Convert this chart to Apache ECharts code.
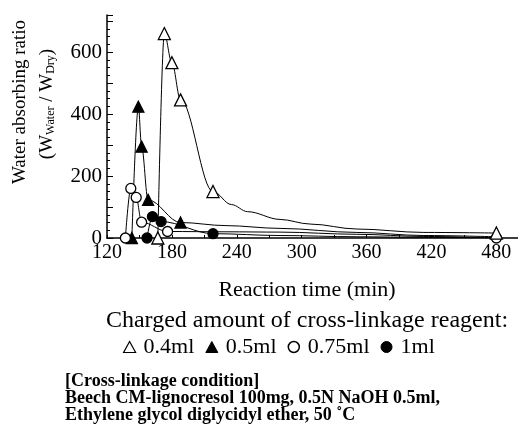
<!DOCTYPE html>
<html>
<head>
<meta charset="utf-8">
<title>Water absorbing ratio vs reaction time</title>
<script src="https://cdn.jsdelivr.net/npm/echarts@6/dist/echarts.min.js"></script>
<style>
  html, body { margin: 0; padding: 0; background: #fff; }
  #main { width: 518px; height: 439px; }
</style>
</head>
<body>
<div id="main"></div>
<script>
// tick labels
var xTickLabels = [120, 180, 240, 300, 360, 420, 480];
var yTickLabels = [0, 200, 400, 600];

// [time (min), water absorbing ratio] - points with a marker
var ml04Marks = [[167, 0], [173, 660], [180, 566], [188, 446], [218, 150], [480, 16]];
var ml05Marks = [[143, 0], [149, 424], [152, 295], [158, 123], [188, 50]];
var ml075Marks = [[137, 0], [142, 160], [147, 131], [152, 51], [176, 21], [480, 0]];
var ml1Marks = [[157, 0], [162, 69], [170, 53], [218, 14]];

// points (no marker)
var ml04Curve = [[235, 108], [250, 85], [280, 60], [308, 45], [351, 29], [413, 18]];
var ml05Curve = [[230, 40], [280, 31], [351, 18], [413, 8], [480, 4]];
var ml075Curve = [[230, 20], [280, 19], [351, 12], [413, 5]];
var ml1Curve = [[280, 8], [351, 4], [413, 2], [480, 1]];

var serif = '"Liberation Serif", "Times New Roman", serif';

function curveOf(marks, curve) {
    return marks.concat(curve).sort(function (a, b) { return a[0] - b[0]; });
}

function lineSeries(name, marks, curve) {
    return {
        name: name + ' curve',
        type: 'line',
        data: curveOf(marks, curve),
        showSymbol: false,
        symbol: 'none',
        smooth: 0.35,
        smoothMonotone: 'x',
        lineStyle: { color: '#000', width: 1 },
        z: 2,
        silent: true
    };
}

function markSeries(name, marks, symbol, fill, size) {
    return {
        name: name,
        type: 'scatter',
        data: marks,
        symbol: symbol,
        symbolSize: size,
        itemStyle: { color: fill, borderColor: '#000', borderWidth: 1.3, opacity: 1 },
        z: 3
    };
}

var myChart = echarts.init(document.getElementById('main'));
var option = {
    animation: false,
    backgroundColor: '#fff',
    grid: { left: 107, right: 0, top: 15, bottom: 201, containLabel: false },
    xAxis: {
        type: 'value', min: 120, max: 500, interval: 60,
        axisLine: { lineStyle: { color: '#000', width: 1.5 } },
        axisTick: { inside: true, length: 3, lineStyle: { color: '#000' } },
        minorTick: { show: true, splitNumber: 2, length: 3, lineStyle: { color: '#000' } },
        splitLine: { show: false },
        axisLabel: {
            color: '#000', fontFamily: serif, fontSize: 20, margin: 5, showMaxLabel: false,
            formatter: function (v) { return xTickLabels.indexOf(v) >= 0 ? String(v) : ''; }
        }
    },
    yAxis: {
        type: 'value', min: 0, max: 720, interval: 100,
        axisLine: { show: true, lineStyle: { color: '#000', width: 1.5 } },
        axisTick: { show: true, inside: true, length: 6, lineStyle: { color: '#000' } },
        minorTick: { show: true, splitNumber: 4, length: 3, lineStyle: { color: '#000' } },
        splitLine: { show: false },
        axisLabel: {
            color: '#000', fontFamily: serif, fontSize: 21, margin: 5, showMaxLabel: false,
            formatter: function (v) { return yTickLabels.indexOf(v) >= 0 ? String(v) : ''; }
        }
    },
    legend: {
        top: 331, left: 118,
        itemWidth: 12, itemHeight: 11, itemGap: 11,
        textStyle: { color: '#000', fontFamily: serif, fontSize: 22, padding: [0, 0, 0, 3] },
        selectedMode: false,
        data: [
            { name: '0.4ml', icon: 'triangle', itemStyle: { color: '#fff', borderColor: '#000', borderWidth: 1.2 } },
            { name: '0.5ml', icon: 'triangle', itemStyle: { color: '#000', borderColor: '#000', borderWidth: 1 } },
            { name: '0.75ml', icon: 'circle', itemStyle: { color: '#fff', borderColor: '#000', borderWidth: 1.5 } },
            { name: '1ml', icon: 'circle', itemStyle: { color: '#000', borderColor: '#000', borderWidth: 1 } }
        ]
    },
    graphic: [
        { type: 'text', x: 20, y: 102, rotation: Math.PI / 2,
          style: { text: 'Water absorbing ratio', font: '19px ' + serif, fill: '#000', align: 'center', verticalAlign: 'middle' } },
        { type: 'text', x: 47, y: 104, rotation: Math.PI / 2,
          style: { text: '(W{s|Water} / W{s|Dry})', font: '19px ' + serif, fill: '#000', align: 'center', verticalAlign: 'middle',
                   rich: { s: { fontSize: 12, fontFamily: serif, verticalAlign: 'bottom', padding: [8, 0, 0, 0] } } } },
        { type: 'text', x: 307, y: 290,
          style: { text: 'Reaction time (min)', font: '22px ' + serif, fill: '#000', align: 'center', verticalAlign: 'middle' } },
        { type: 'text', x: 307, y: 321,
          style: { text: 'Charged amount of cross-linkage reagent:', font: '24px ' + serif, fill: '#000', align: 'center', verticalAlign: 'middle' } },
        { type: 'text', x: 65, y: 381,
          style: { text: '[Cross-linkage condition]', font: 'bold 18px ' + serif, fill: '#000', align: 'left', verticalAlign: 'middle' } },
        { type: 'text', x: 65, y: 398,
          style: { text: 'Beech CM-lignocresol 100mg, 0.5N NaOH 0.5ml,', font: 'bold 18px ' + serif, fill: '#000', align: 'left', verticalAlign: 'middle' } },
        { type: 'text', x: 65, y: 415,
          style: { text: 'Ethylene glycol diglycidyl ether, 50 \u02daC', font: 'bold 18px ' + serif, fill: '#000', align: 'left', verticalAlign: 'middle' } }
    ],
    series: [
        lineSeries('0.4ml', ml04Marks, ml04Curve),
        lineSeries('0.5ml', ml05Marks, ml05Curve),
        lineSeries('0.75ml', ml075Marks, ml075Curve),
        lineSeries('1ml', ml1Marks, ml1Curve),
        markSeries('1ml', ml1Marks, 'circle', '#000', 10),
        markSeries('0.5ml', ml05Marks, 'triangle', '#000', 11),
        markSeries('0.75ml', ml075Marks, 'circle', '#fff', 10),
        markSeries('0.4ml', ml04Marks, 'triangle', '#fff', 12)
    ]
};
myChart.setOption(option);
</script>
</body>
</html>
